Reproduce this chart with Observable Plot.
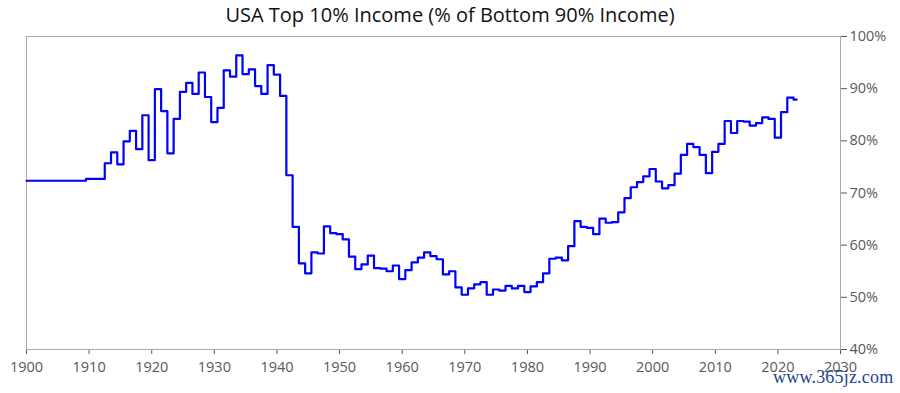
<!DOCTYPE html>
<html>
<head>
<meta charset="utf-8">
<script src="https://cdn.jsdelivr.net/npm/d3@7"></script>
<script src="https://cdn.jsdelivr.net/npm/@observablehq/plot@0.6"></script>
<style>
  html, body { margin: 0; padding: 0; background: #fff; }
  #wrap { position: relative; width: 900px; height: 393px; overflow: hidden; }
  #chart { position: absolute; left: 0; top: 0; }
  #title { position: absolute; left: 0; top: 1px; width: 900px; text-align: center;
           font-family: "Open Sans", sans-serif; font-size: 20px; color: #111; }
  #wm { position: absolute; left: 773px; top: 367px; font-family: "Liberation Serif", serif;
        font-size: 18px; color: #1f3f8f; letter-spacing: 0.2px; }
</style>
</head>
<body>
<div id="wrap">
  <div id="chart"></div>
  <div id="title">USA Top 10% Income (% of Bottom 90% Income)</div>
  <div id="wm">www.365jz.com</div>
</div>
<script>
const title = "USA Top 10% Income (% of Bottom 90% Income)";
const years = d3.range(1900, 2024);
const values = [
  72.35, 72.35, 72.35, 72.35, 72.35, 72.35, 72.35, 72.35, 72.35, 72.35, // 1900-1909
  72.7, 72.7, 72.7,                                                      // 1910-1912
  75.7, 77.8, 75.5, 79.9, 81.9, 78.4, 84.9,                              // 1913-1919
  76.3, 89.9, 85.7, 77.6, 84.2, 89.4, 91.1, 89.0, 93.1, 88.4,            // 1920s
  83.6, 86.3, 93.5, 92.3, 96.4, 92.8, 93.7, 90.5, 89.0, 94.5,            // 1930s
  92.7, 88.6, 73.4, 63.5, 56.5, 54.6, 58.6, 58.4, 63.6, 62.3,            // 1940s
  62.1, 61.1, 57.8, 55.4, 56.3, 58.0, 55.6, 55.5, 55.0, 56.1,            // 1950s
  53.5, 55.2, 56.7, 57.6, 58.6, 57.9, 57.3, 54.4, 55.0, 51.9,            // 1960s
  50.5, 51.7, 52.5, 52.9, 50.5, 51.5, 51.3, 52.2, 51.7, 52.2,            // 1970s
  51.0, 52.1, 52.9, 54.6, 57.4, 57.6, 57.1, 59.8, 64.6, 63.5,            // 1980s
  63.3, 62.1, 65.1, 64.3, 64.4, 66.3, 69.0, 71.1, 72.1, 73.2,            // 1990s
  74.6, 72.2, 70.9, 71.5, 73.7, 77.3, 79.4, 78.8, 77.3, 73.8,            // 2000s
  77.9, 79.4, 83.8, 81.5, 83.8, 83.7, 82.9, 83.4, 84.5, 84.2,            // 2010s
  80.6, 85.5, 88.3, 87.9                                                 // 2020-2023
];
const xTicks = d3.range(1900, 2031, 10);
const yTicks = [40, 50, 60, 70, 80, 90, 100];

const data = years.map((y, i) => ({year: y, value: values[i]}));

const chart = Plot.plot({
  width: 900,
  height: 393,
  marginTop: 36,
  marginBottom: 44,
  marginLeft: 26,
  marginRight: 60,
  style: {fontFamily: "Open Sans, sans-serif", fontSize: "14.5px", color: "#595959", background: "white"},
  x: {domain: [1900, 2030], ticks: xTicks, tickFormat: d => String(d), label: null, tickSize: 5, tickPadding: 7},
  y: {domain: [40, 100], ticks: yTicks, tickFormat: d => d + "%", label: null, axis: "right", tickSize: 6, tickPadding: 3},
  marks: [
    Plot.frame({stroke: "#aaaaaa", strokeWidth: 1}),
    Plot.line(data, {x: "year", y: "value", curve: "step", stroke: "#0000ff", strokeWidth: 2.2})
  ]
});
document.getElementById("chart").appendChild(chart);
</script>
</body>
</html>
